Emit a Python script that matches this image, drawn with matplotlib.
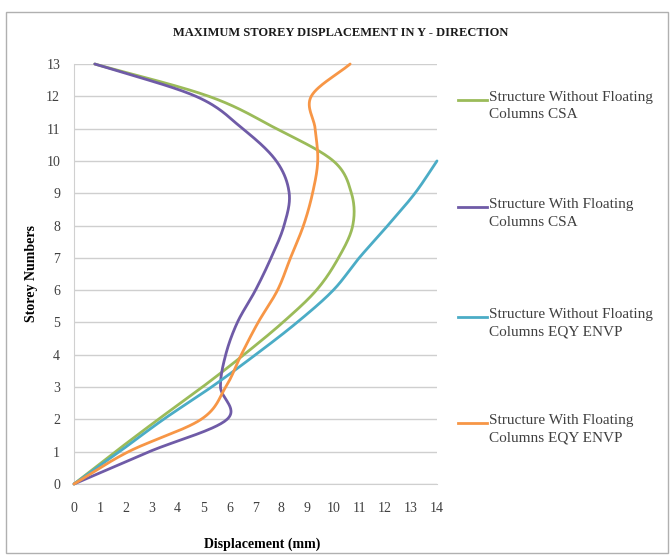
import numpy as np
import matplotlib
matplotlib.use("Agg")
import matplotlib.pyplot as plt
from matplotlib.lines import Line2D
from matplotlib.patches import Rectangle

# Storey levels
storeys = list(range(14))
storeys_eqy = list(range(11))

# Maximum storey displacement in Y direction (mm)
without_fc_csa = [0, 1.6, 3.25, 4.95, 6.55, 8.05, 9.35, 10.2, 10.75, 10.7, 10.0, 7.8, 5.2, 0.8]
with_fc_csa = [0, 2.9, 5.9, 5.65, 5.85, 6.3, 7.0, 7.6, 8.1, 8.3, 7.8, 6.5, 4.7, 0.8]
without_fc_eqy = [0, 1.75, 3.45, 5.3, 7.0, 8.6, 10.0, 11.0, 12.1, 13.15, 14.0]
with_fc_eqy = [0, 2.1, 4.9, 5.85, 6.45, 7.1, 7.85, 8.35, 8.85, 9.2, 9.4, 9.3, 9.15, 10.65]

series_labels = [
    "Structure Without Floating\nColumns CSA",
    "Structure With Floating\nColumns CSA",
    "Structure Without Floating\nColumns EQY ENVP",
    "Structure With Floating\nColumns EQY ENVP",
]
series_colors = ["#9BBB59", "#6F5BA7", "#4BACC6", "#F79646"]

x_ticks = list(range(15))
y_ticks = list(range(14))


def smooth(xs, ys, n=30):
    """Catmull-Rom curve through the points, like a smoothed spreadsheet line."""
    p = np.column_stack([xs, ys]).astype(float)
    if len(p) < 3:
        return p[:, 0], p[:, 1]
    ext = np.vstack([2 * p[0] - p[1], p, 2 * p[-1] - p[-2]])
    out = []
    t = np.linspace(0, 1, n, endpoint=False)[:, None]
    for i in range(1, len(ext) - 2):
        p0, p1, p2, p3 = ext[i - 1], ext[i], ext[i + 1], ext[i + 2]
        m1 = (p2 - p0) / 2.0
        m2 = (p3 - p1) / 2.0
        h00 = 2 * t**3 - 3 * t**2 + 1
        h10 = t**3 - 2 * t**2 + t
        h01 = -2 * t**3 + 3 * t**2
        h11 = t**3 - t**2
        out.append(h00 * p1 + h10 * m1 + h01 * p2 + h11 * m2)
    out.append(p[-1][None, :])
    c = np.vstack(out)
    return c[:, 0], c[:, 1]


plt.rcParams["font.family"] = ["Liberation Serif", "DejaVu Serif"]

W, H = 670, 555
fig = plt.figure(figsize=(W / 100, H / 100), dpi=100)
fig.patch.set_facecolor("white")
fig.add_artist(Rectangle((6 / W, 1 - 553 / H), 662 / W, 541 / H,
                         transform=fig.transFigure, fill=False,
                         edgecolor="#b0b0b0", linewidth=1.0))

left, right, top, bottom = 74, 437, 64, 484
ax = fig.add_axes([left / W, 1 - bottom / H, (right - left) / W, (bottom - top) / H])

all_series = [
    (without_fc_csa, storeys),
    (with_fc_csa, storeys),
    (without_fc_eqy, storeys_eqy),
    (with_fc_eqy, storeys),
]
for (xs, ys), col in zip(all_series, series_colors):
    sx, sy = smooth(xs, ys)
    ax.plot(sx, sy, color=col, lw=2.0, solid_capstyle="round", zorder=3, clip_on=False)

ax.set_xlim(0, 14)
ax.set_ylim(0, 13)
ax.set_xticks(x_ticks)
ax.set_yticks(y_ticks)
ax.grid(axis="y", color="#cfcfcf", linewidth=1.0)
ax.grid(axis="x", visible=False)
ax.set_axisbelow(True)
for s in ["top", "right"]:
    ax.spines[s].set_visible(False)
ax.spines["left"].set_color("#d0d0d0")
ax.spines["bottom"].set_color("#cfcfcf")
ax.tick_params(length=0, labelsize=10, labelcolor="#404040")
ax.tick_params(axis="y", pad=10)
ax.tick_params(axis="x", pad=13)

ax.set_ylabel("Storey Numbers", fontsize=10, fontweight="bold", labelpad=6)
fig.text(262 / W, 1 - 544 / H, "Displacement (mm)", ha="center", va="center",
         fontsize=10, fontweight="bold")

fig.text(341 / W, 1 - 33 / H, "MAXIMUM STOREY DISPLACEMENT IN Y - DIRECTION",
         ha="center", va="center", fontsize=9, fontweight="bold", color="#1a1a1a")

# Legend on the right
legend_y = [100, 207, 317, 423]
for lab, col, yy in zip(series_labels, series_colors, legend_y):
    fig.add_artist(Line2D([458 / W, 487 / W], [1 - yy / H, 1 - yy / H],
                          transform=fig.transFigure, color=col, lw=2.0))
    fig.text(489 / W, 1 - (yy - 9) / H, lab, ha="left", va="top",
             fontsize=11, color="#404040", linespacing=1.45)

fig.savefig("out.png", dpi=100)
